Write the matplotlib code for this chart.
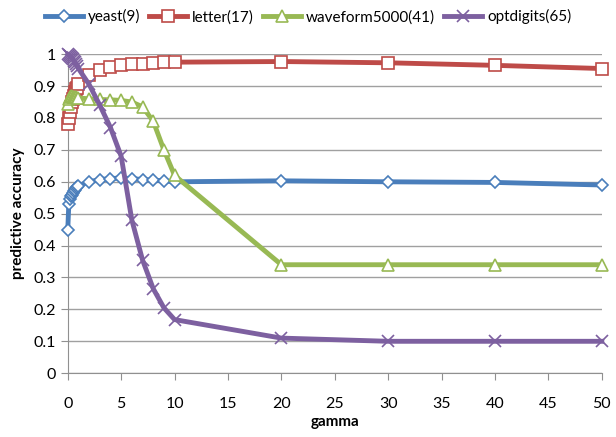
import matplotlib
matplotlib.use("Agg")
import matplotlib.pyplot as plt

plt.rcParams['font.family'] = ['Lato', 'DejaVu Sans']

# gamma values (x axis)
gamma = [0, 0.1, 0.2, 0.3, 0.4, 0.5, 0.6, 0.7, 0.8, 0.9, 1,
         2, 3, 4, 5, 6, 7, 8, 9, 10, 20, 30, 40, 50]

yeast = [0.45, 0.53, 0.545, 0.555, 0.56, 0.565, 0.57, 0.575, 0.58, 0.583, 0.587,
         0.60, 0.607, 0.61, 0.612, 0.61, 0.607, 0.605, 0.603, 0.60, 0.603, 0.60, 0.598, 0.59]
letter = [0.78, 0.80, 0.82, 0.835, 0.85, 0.86, 0.87, 0.88, 0.89, 0.895, 0.905,
          0.935, 0.95, 0.96, 0.965, 0.968, 0.97, 0.972, 0.974, 0.975, 0.977, 0.973, 0.965, 0.955]
waveform = [0.845, 0.86, 0.866, 0.868, 0.868, 0.867, 0.866, 0.866, 0.865, 0.864, 0.863,
            0.86, 0.858, 0.857, 0.855, 0.85, 0.835, 0.79, 0.70, 0.62, 0.34, 0.34, 0.34, 0.34]
optdigits = [1.0, 0.998, 0.995, 0.992, 0.988, 0.984, 0.979, 0.974, 0.968, 0.962, 0.955,
             0.905, 0.84, 0.77, 0.68, 0.48, 0.355, 0.265, 0.205, 0.168, 0.11, 0.10, 0.10, 0.10]

names = ['yeast(9)', 'letter(17)', 'waveform5000(41)', 'optdigits(65)']
colors = ['#4A7EBB', '#BE4B48', '#98B954', '#7D60A0']
markers = ['D', 's', '^', 'x']

fig = plt.figure(figsize=(6.16, 4.37), dpi=100)
ax = fig.add_axes([0.110, 0.146, 0.867, 0.730])

for data, name, c, m in zip([yeast, letter, waveform, optdigits], names, colors, markers):
    ms = 6 if m == 'D' else 8
    ax.plot(gamma, data, color=c, lw=3.5, marker=m, markersize=ms,
            markerfacecolor='white' if m != 'x' else c, markeredgecolor=c,
            markeredgewidth=1.2, label=name, clip_on=False, zorder=3)

ax.set_xlim(0, 50)
ax.set_ylim(0, 1)
ax.set_xticks(range(0, 51, 5))
ax.set_yticks([i / 10 for i in range(11)])
ax.set_yticklabels(['0', '0.1', '0.2', '0.3', '0.4', '0.5', '0.6', '0.7', '0.8', '0.9', '1'])
ax.grid(axis='y', color='#a0a0a0', lw=1)
ax.set_axisbelow(True)
for s in ['top', 'right']:
    ax.spines[s].set_visible(False)
for s in ['left', 'bottom']:
    ax.spines[s].set_color('#909090')
ax.tick_params(axis='both', colors='#909090', labelcolor='black', labelsize=11.5,
               length=5, direction='out')
ax.tick_params(axis='x', pad=12)

ax.set_xlabel('gamma', fontsize=11, fontweight='bold', labelpad=3)
ax.set_ylabel('predictive accuracy', fontsize=11, fontweight='bold', labelpad=6)

fig.legend(loc='upper center', bbox_to_anchor=(0.5, 1.01), ncol=4, frameon=False,
           fontsize=11, handlelength=2.5, handletextpad=0.3, columnspacing=0.6)

fig.savefig('out.png', dpi=100)
